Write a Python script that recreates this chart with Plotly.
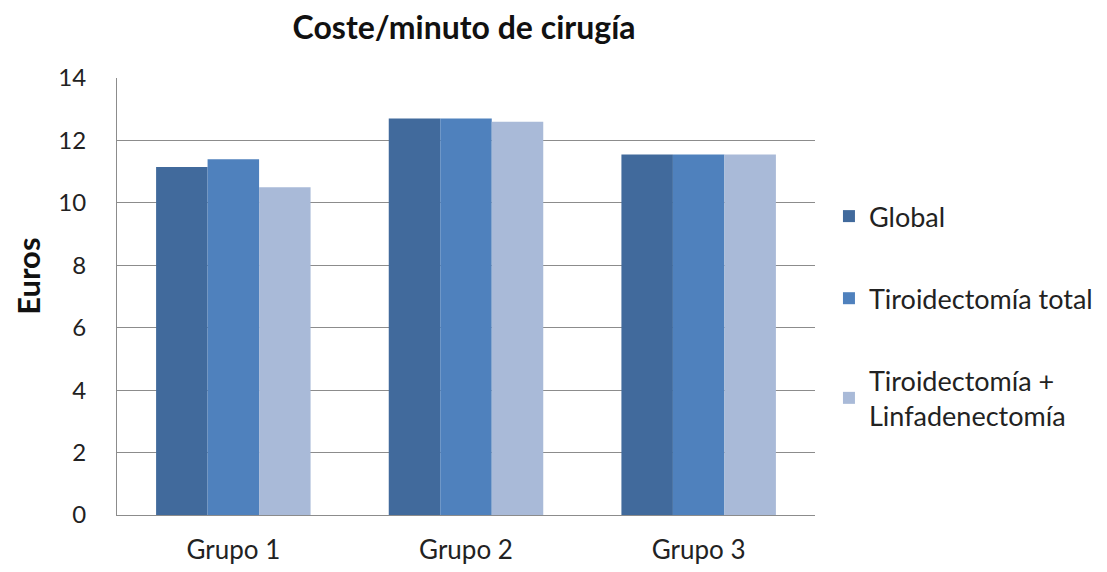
import plotly.graph_objects as go

categories = ["Grupo 1", "Grupo 2", "Grupo 3"]
series_names = ["Global", "Tiroidectomía total", "Tiroidectomía +<br>Linfadenectomía"]
global_vals = [11.15, 12.7, 11.55]
total_vals = [11.4, 12.7, 11.55]
linfa_vals = [10.5, 12.6, 11.55]
colors = ["#416A9C", "#4F81BD", "#A9BAD8"]
y_ticks = [0, 2, 4, 6, 8, 10, 12, 14]

fig = go.Figure()
for i, (name, vals) in enumerate(zip(series_names, [global_vals, total_vals, linfa_vals])):
    fig.add_trace(go.Bar(x=categories, y=vals, name=name, marker_color=colors[i],
                         marker_line_width=0, legendgroup=str(i)))

font_family = "Lato, Open Sans, sans-serif"
fig.update_layout(
    width=1107, height=572,
    paper_bgcolor="white", plot_bgcolor="white",
    barmode="group", bargap=0.336, bargroupgap=0,
    margin=dict(l=109, r=300, t=70, b=65, autoexpand=False),
    font=dict(family=font_family, size=24, color="#222"),
    title=dict(text="<b>Coste/minuto de cirugía</b>", x=0.412, xanchor="center",
               y=0.965, yanchor="middle", font=dict(size=32, color="#111")),
    legend=dict(x=1.02, xanchor="left", y=0.739, yanchor="top",
                font=dict(size=27, color="#222"), tracegroupgap=44,
                itemwidth=30, bgcolor="rgba(0,0,0,0)"),
    showlegend=True,
    annotations=[dict(text="<b>Euros</b>", textangle=-90, xref="paper", yref="paper",
                      x=-0.1275, y=0.545, xanchor="center", yanchor="middle",
                      showarrow=False, font=dict(size=31, color="#111"))],
)
fig.update_yaxes(range=[0, 14], tickvals=y_ticks, showgrid=True, gridcolor="#8c8c8c",
                 gridwidth=1, showline=True, linecolor="#8c8c8c", linewidth=1,
                 zeroline=False, ticks="", ticklabelstandoff=25,
                 tickfont=dict(size=24, color="#222"))
fig.update_xaxes(showline=True, linecolor="#8c8c8c", linewidth=1, ticks="",
                 ticklabelstandoff=12, tickfont=dict(size=26, color="#222"))

fig.write_html("out.html")
